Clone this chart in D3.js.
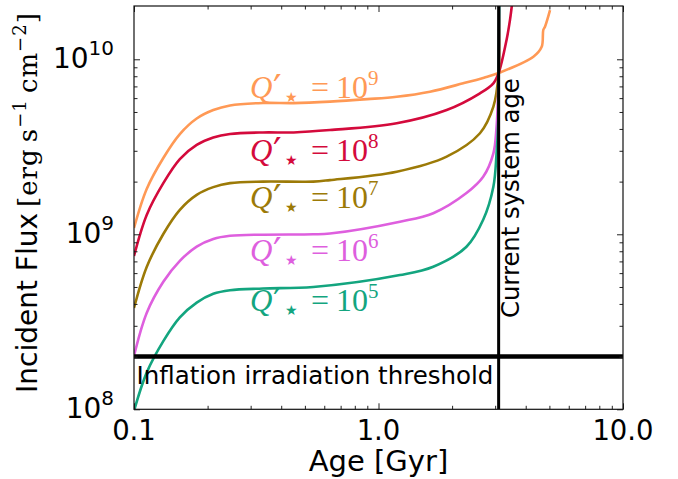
<!DOCTYPE html>
<html><head><meta charset="utf-8">
<script src="https://cdn.jsdelivr.net/npm/d3@7"></script>
<style>body{margin:0;background:#fff}</style>
</head><body>
<svg id="c" width="678" height="479"></svg>
<script>
// ---- data ----
const xTickValues = [0.1, 1, 10];
const xTickLabels = ["0.1", "1.0", "10.0"];
const yTickValues = [1e8, 1e9, 1e10];
const yTickExps = ["8", "9", "10"];
const seriesExps = ["9", "8", "7", "6", "5"];
const seriesColors = ["#ff9955", "#d40a3c", "#9c7a07", "#de5fde", "#13a57f"];

const agesQ9 = [0.1, 0.1127, 0.1318, 0.154, 0.1805, 0.211, 0.247, 0.337, 0.45, 0.633, 0.9, 1.187, 1.624, 2.22, 2.7, 3.1, 4.30, 4.65, 4.72, 4.80, 5.03];
const fluxQ9 = [1.087e9, 1.815e9, 2.73e9, 3.74e9, 4.59e9, 5.13e9, 5.45e9, 5.63e9, 5.62e9, 5.73e9, 5.92e9, 6.11e9, 6.53e9, 7.29e9, 7.85e9, 8.35e9, 1.035e10, 1.18e10, 1.47e10, 1.54e10, 1.91e10];

const agesQ8 = [0.1, 0.1127, 0.1318, 0.154, 0.1805, 0.211, 0.247, 0.337, 0.45, 0.633, 1.187, 1.90, 2.60, 2.95, 3.1, 3.34, 3.45, 3.51];
const fluxQ8 = [7.52e8, 1.29e9, 1.96e9, 2.69e9, 3.24e9, 3.57e9, 3.74e9, 3.82e9, 3.82e9, 3.94e9, 4.31e9, 5.13e9, 6.39e9, 7.29e9, 8.35e9, 1.29e10, 1.68e10, 2.02e10];

const agesQ7 = [0.1, 0.1127, 0.1318, 0.154, 0.1805, 0.211, 0.247, 0.337, 0.541, 0.633, 1.187, 1.90, 2.60, 2.95, 3.1, 3.12];
const fluxQ7 = [3.79e8, 6.50e8, 1.004e9, 1.38e9, 1.68e9, 1.86e9, 1.96e9, 2.00e9, 2.00e9, 2.04e9, 2.28e9, 2.78e9, 3.78e9, 5.36e9, 8.35e9, 2.1e10];

const agesQ6 = [0.1, 0.1127, 0.1318, 0.154, 0.1805, 0.211, 0.247, 0.337, 0.541, 0.633, 1.224, 1.675, 2.29, 2.68, 2.95, 3.04, 3.1, 3.12];
const fluxQ6 = [2.02e8, 3.55e8, 5.35e8, 7.05e8, 8.5e8, 9.4e8, 9.8e8, 9.95e8, 1.0e9, 1.01e9, 1.18e9, 1.32e9, 1.72e9, 2.13e9, 2.90e9, 4.12e9, 8.35e9, 2.1e10];

const agesQ5 = [0.1, 0.1127, 0.1318, 0.154, 0.1805, 0.211, 0.247, 0.337, 0.541, 1.224, 1.675, 2.29, 2.68, 2.95, 3.04, 3.09, 3.1, 3.12];
const fluxQ5 = [0.98e8, 1.62e8, 2.45e8, 3.35e8, 4.07e8, 4.57e8, 4.79e8, 4.90e8, 5.00e8, 5.85e8, 6.53e8, 8.49e8, 1.21e9, 1.87e9, 2.90e9, 4.50e9, 8.35e9, 2.1e10];

const currentAge = 3.1;
const thresholdFlux = 2.0e8;

// ---- layout ----
const W = 678, H = 479;
const M = {left: 134, right: 55, top: 6, bottom: 69.7};
const svg = d3.select("#c");
const x = d3.scaleLog().domain([0.1, 10]).range([M.left, W - M.right]);
const y = d3.scaleLog().domain([1e8, 2.016e10]).range([H - M.bottom, M.top]);
const x0 = M.left, x1 = W - M.right, y0 = H - M.bottom, y1 = M.top;

svg.append("defs").append("clipPath").attr("id", "clip")
  .append("rect").attr("x", x0).attr("y", y1).attr("width", x1 - x0).attr("height", y0 - y1);

const series = [
  {ages: agesQ9, flux: fluxQ9},
  {ages: agesQ8, flux: fluxQ8},
  {ages: agesQ7, flux: fluxQ7},
  {ages: agesQ6, flux: fluxQ6},
  {ages: agesQ5, flux: fluxQ5}
];

const line = d3.line().x(d => x(d[0])).y(d => y(d[1])).curve(d3.curveCatmullRom.alpha(0.5));
const plot = svg.append("g").attr("clip-path", "url(#clip)");
series.forEach((s, i) => {
  plot.append("path").datum(d3.zip(s.ages, s.flux))
    .attr("d", line).attr("fill", "none")
    .attr("stroke", seriesColors[i]).attr("stroke-width", 2.6);
});

// reference lines
plot.append("line").attr("x1", x(currentAge)).attr("x2", x(currentAge))
  .attr("y1", y1).attr("y2", y0).attr("stroke", "#000").attr("stroke-width", 3);
plot.append("line").attr("x1", x0).attr("x2", x1)
  .attr("y1", y(thresholdFlux)).attr("y2", y(thresholdFlux)).attr("stroke", "#000").attr("stroke-width", 4.5);

// axes with inward ticks on all sides
const xMinor = [0.2,0.3,0.4,0.5,0.6,0.7,0.8,0.9,2,3,4,5,6,7,8,9];
const yMinor = [2e8,3e8,4e8,5e8,6e8,7e8,8e8,9e8,2e9,3e9,4e9,5e9,6e9,7e9,8e9,9e9];
svg.append("g").attr("transform", `translate(0,${y0})`)
  .call(d3.axisBottom(x).tickValues(xTickValues).tickSize(-6).tickFormat(""));
svg.append("g").attr("transform", `translate(0,${y0})`)
  .call(d3.axisBottom(x).tickValues(xMinor).tickSize(-3.5).tickFormat(""));
svg.append("g").attr("transform", `translate(0,${y1})`)
  .call(d3.axisTop(x).tickValues(xTickValues).tickSize(-6).tickFormat(""));
svg.append("g").attr("transform", `translate(0,${y1})`)
  .call(d3.axisTop(x).tickValues(xMinor).tickSize(-3.5).tickFormat(""));
svg.append("g").attr("transform", `translate(${x0},0)`)
  .call(d3.axisLeft(y).tickValues(yTickValues).tickSize(-6).tickFormat(""));
svg.append("g").attr("transform", `translate(${x0},0)`)
  .call(d3.axisLeft(y).tickValues(yMinor).tickSize(-3.5).tickFormat(""));
svg.append("g").attr("transform", `translate(${x1},0)`)
  .call(d3.axisRight(y).tickValues(yTickValues).tickSize(-6).tickFormat(""));
svg.append("g").attr("transform", `translate(${x1},0)`)
  .call(d3.axisRight(y).tickValues(yMinor).tickSize(-3.5).tickFormat(""));
svg.selectAll(".domain").remove();
svg.selectAll(".tick line").attr("stroke", "#222").attr("stroke-width", 1);
svg.append("rect").attr("x", x0).attr("y", y1).attr("width", x1 - x0).attr("height", y0 - y1)
  .attr("fill", "none").attr("stroke", "#111").attr("stroke-width", 1.2);

// tick labels
const sans = "'DejaVu Sans', sans-serif";
xTickValues.forEach((v, i) => {
  svg.append("text").attr("x", x(v)).attr("y", 440).attr("text-anchor", "middle")
    .style("font-family", sans).style("font-size", "27.5px").text(xTickLabels[i]);
});
yTickValues.forEach((v, i) => {
  const t = svg.append("text").attr("x", 114).attr("y", y(v) + 9).attr("text-anchor", "end")
    .style("font-family", sans).style("font-size", "28px");
  t.append("tspan").text("10");
  t.append("tspan").attr("dy", -13).style("font-size", "20px").text(yTickExps[i]);
});

// axis titles
svg.append("text").attr("x", (x0 + x1) / 2).attr("y", 471).attr("text-anchor", "middle")
  .style("font-family", sans).style("font-size", "29px").text("Age [Gyr]");

const serif = "'Liberation Serif', 'DejaVu Serif', serif";
const mserif = "'DejaVu Serif', serif";
svg.append("text").attr("transform", `translate(37,393) rotate(-90)`)
  .style("font-family", sans).style("font-size", "28px").text("Incident Flux");
const yl = svg.append("text").attr("transform", `translate(37,207) rotate(-90)`)
  .style("font-family", mserif).style("font-size", "26px").style("letter-spacing", "1px");
yl.append("tspan").text("[erg\u2009s");
yl.append("tspan").style("font-size", "18px").attr("dy", -11).text("\u22121");
yl.append("tspan").attr("dy", 11).text("\u2009cm");
yl.append("tspan").style("font-size", "18px").attr("dy", -11).text("\u22122");
yl.append("tspan").attr("dy", 11).text("]");

// in-plot annotations
svg.append("text").attr("x", 136.5).attr("y", 383.5)
  .style("font-family", sans).style("font-size", "24.5px").text("Inflation irradiation threshold");
svg.append("text").attr("transform", `translate(519,318) rotate(-90)`)
  .style("font-family", sans).style("font-size", "24.3px").text("Current system age");

// series labels
const labelBase = [97.5, 161, 207.5, 261, 311];
const L = 250;
seriesExps.forEach((e, i) => {
  const g = svg.append("g").attr("fill", seriesColors[i]).style("font-family", serif);
  const b = labelBase[i];
  g.append("text").attr("x", L).attr("y", b).style("font-style", "italic").style("font-size", "31px").text("Q");
  g.append("text").attr("x", L + 23).attr("y", b + 3).style("font-family", mserif).style("font-size", "38px").text("\u2032");
  g.append("text").attr("x", L + 35).attr("y", b + 4).style("font-family", sans).style("font-size", "14px").text("\u2605");
  g.append("text").attr("x", L + 61).attr("y", b).style("font-size", "32px").text("=");
  g.append("text").attr("x", L + 86).attr("y", b).style("font-size", "32px").text("10");
  g.append("text").attr("x", L + 118).attr("y", b - 13).style("font-size", "21px").text(e);
});
</script>
</body></html>
